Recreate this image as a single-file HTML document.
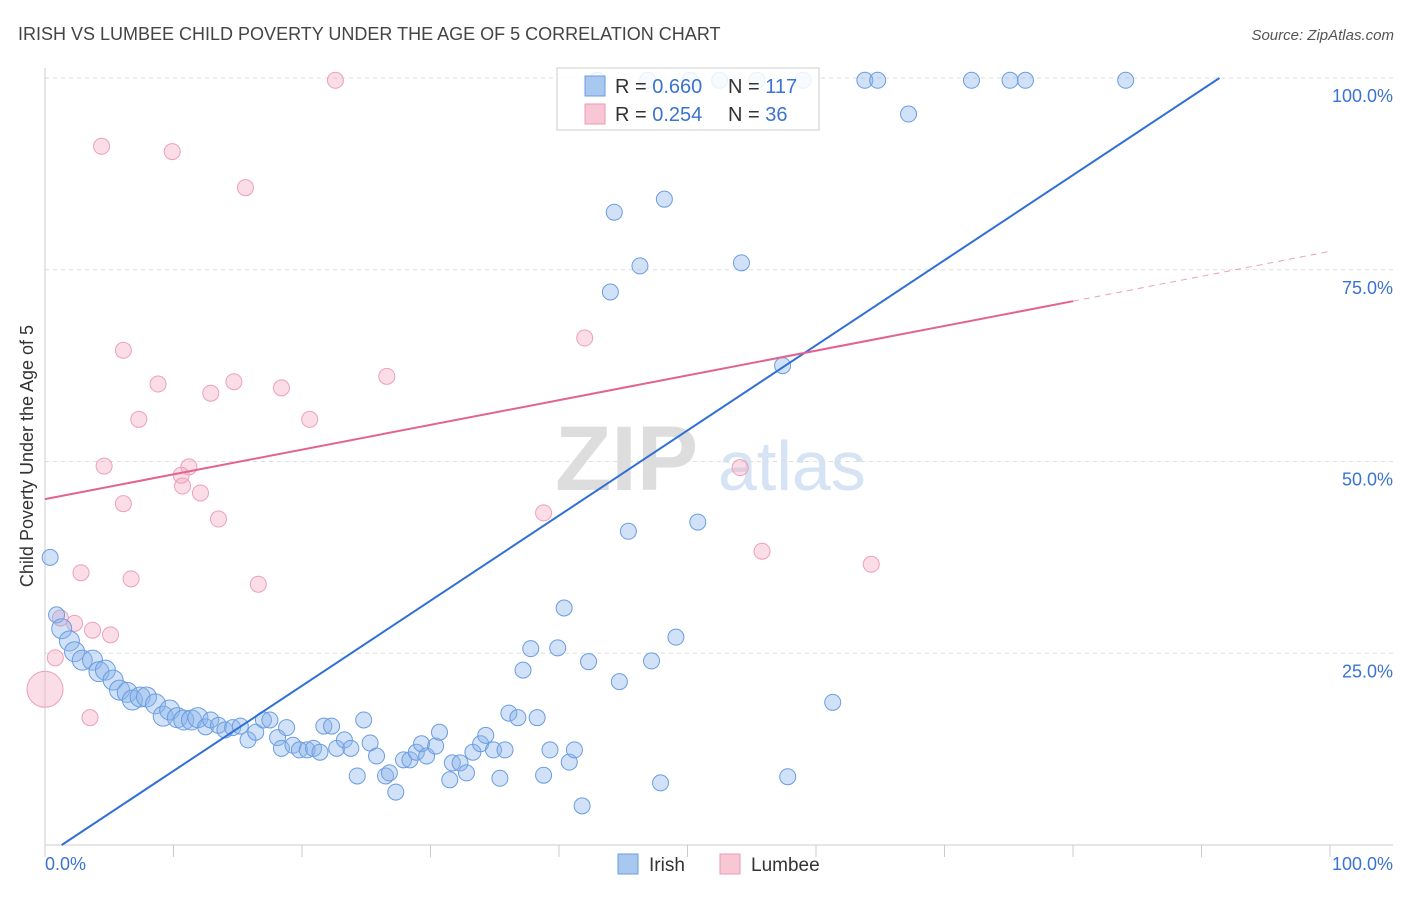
<!DOCTYPE html>
<html><head><meta charset="utf-8"><style>
body{margin:0;background:#fff;font-family:"Liberation Sans",sans-serif}
svg text{font-family:"Liberation Sans",sans-serif}
</style></head><body>
<svg id="chart" width="1406" height="892" viewBox="0 0 1406 892">
<text x="18" y="40" font-size="18" fill="#444">IRISH VS LUMBEE CHILD POVERTY UNDER THE AGE OF 5 CORRELATION CHART</text>
<text x="1394" y="40" font-size="15" fill="#555" text-anchor="end" font-style="italic">Source: ZipAtlas.com</text>
<g>
<text x="555" y="490" font-size="92" fill="#ddd" font-family="Liberation Serif" font-weight="bold">ZIP</text>
<text x="718" y="490" font-size="70" fill="#d5e3f5">atlas</text>
</g>
<g id="grid"></g>
<g id="axes"></g>
<g id="pts"></g>
<g id="lines"></g>
<text transform="translate(33,456) rotate(-90)" font-size="18" fill="#333" text-anchor="middle">Child Poverty Under the Age of 5</text>
<g>
<rect x="557" y="68" width="262" height="62" fill="#fff" fill-opacity="0.85" stroke="#ccc"/>
<rect x="585" y="76" width="20" height="20" fill="#a9c8f0" stroke="#6a9de0"/>
<rect x="585" y="104" width="20" height="20" fill="#f9c6d6" stroke="#eb9ab5"/>
<text x="615" y="93" font-size="20" fill="#333">R = <tspan fill="#3b73d1">0.660</tspan></text>
<text x="728" y="93" font-size="20" fill="#333">N = <tspan fill="#3b73d1">117</tspan></text>
<text x="615" y="121" font-size="20" fill="#333">R = <tspan fill="#3b73d1">0.254</tspan></text>
<text x="728" y="121" font-size="20" fill="#333">N = <tspan fill="#3b73d1"> 36</tspan></text>
</g>
<g>
<rect x="618" y="854" width="20" height="20" fill="#a9c8f0" stroke="#6a9de0"/>
<text x="649" y="871" font-size="19" fill="#333">Irish</text>
<rect x="720" y="854" width="20" height="20" fill="#f9c6d6" stroke="#eb9ab5"/>
<text x="751" y="871" font-size="19" fill="#333">Lumbee</text>
</g>
</svg>
<script>
const yTicks=[25,50,75,100];
const yTickLabels=["25.0%","50.0%","75.0%","100.0%"];
const irishX=[43.0,46.9,50.2,52.5,55.4,59.0,63.8,64.8,72.1,75.1,76.3,84.1,67.2,44.3,48.2,46.3,54.2,44.0,57.4,45.4,50.8,0.4,0.9,1.3,1.9,2.3,2.9,3.7,4.2,4.7,5.3,5.8,6.4,6.8,7.4,7.9,8.6,9.2,9.7,10.3,10.8,11.4,11.9,12.5,12.9,13.5,14.0,14.6,15.2,15.8,16.4,17.0,17.5,18.1,18.4,18.8,19.3,19.8,20.4,20.9,21.4,21.7,22.3,22.7,23.3,23.8,24.3,24.8,25.3,25.8,26.5,26.8,27.3,27.9,28.4,28.9,29.3,29.7,30.4,30.7,31.5,31.7,32.3,32.8,33.3,33.9,34.3,34.9,35.4,35.8,36.1,36.8,37.2,37.8,38.3,38.8,39.3,39.9,40.4,40.8,41.2,41.8,42.3,44.7,47.2,47.9,49.1,57.8,61.3];
const irishY=[99.7,99.7,99.7,99.7,99.7,99.7,99.7,99.7,99.7,99.7,99.7,99.7,95.3,82.5,84.2,75.5,75.9,72.1,62.5,40.9,42.1,37.5,30.0,28.2,26.6,25.2,24.1,24.1,22.6,22.8,21.5,20.2,19.9,18.9,19.3,19.3,18.4,16.8,17.6,16.6,16.3,16.3,16.6,15.4,16.3,15.6,15.0,15.3,15.5,13.7,14.7,16.3,16.3,14.0,12.6,15.3,13.0,12.4,12.4,12.6,12.1,15.5,15.5,12.6,13.7,12.6,9.0,16.3,13.3,11.6,9.0,9.4,6.9,11.1,11.1,12.1,13.2,11.6,12.9,14.7,8.5,10.7,10.7,9.4,12.1,13.2,14.3,12.4,8.7,12.4,17.2,16.6,22.8,25.6,16.6,9.1,12.4,25.7,30.9,10.8,12.4,5.1,23.9,21.3,24.0,8.1,27.1,8.9,18.6];
const lumbeeX=[22.6,4.4,9.9,15.6,6.1,42.0,8.8,12.9,14.7,18.4,26.6,7.3,20.6,4.6,11.2,10.6,10.7,12.1,6.1,13.5,38.8,54.1,2.8,6.7,16.6,55.8,64.3,1.2,2.3,3.7,5.1,0.8,0.0,3.5];
const lumbeeY=[99.7,91.1,90.4,85.7,64.5,66.1,60.1,58.9,60.4,59.6,61.1,55.5,55.5,49.4,49.3,48.2,46.8,45.9,44.5,42.5,43.3,49.2,35.5,34.7,34.0,38.3,36.6,29.6,28.9,28.0,27.4,24.4,20.3,16.6];
const irishFit=[1.3,0,91.4,100];
const lumbeeFit=[45.1,70.9,77.4];
const NS="http://www.w3.org/2000/svg";
const X=v=>45+v*12.85, Y=v=>845-v*7.67;
function mk(t,p,a){const e=document.createElementNS(NS,t);for(const k in a)e.setAttribute(k,a[k]);p.appendChild(e);return e;}
const grid=document.getElementById('grid'),axes=document.getElementById('axes'),pts=document.getElementById('pts'),lines=document.getElementById('lines');
yTicks.forEach((t,i)=>{
 const l=mk('line',grid,{x1:45,x2:1393,y1:Y(t),y2:Y(t),stroke:'#ddd','stroke-dasharray':'4,4'});
 
 
 const tx=mk('text',axes,{x:1393,y:Y(t)+24,'font-size':18,fill:'#3b73d1','text-anchor':'end'});tx.textContent=yTickLabels[i];
 
 
});
mk('line',axes,{x1:45,x2:45,y1:68,y2:845,stroke:'#ccc'});
mk('line',axes,{x1:45,x2:1393,y1:845,y2:845,stroke:'#ccc'});
for(let i=0;i<=10;i++){mk('line',axes,{x1:X(i*10),x2:X(i*10),y1:845,y2:857,stroke:'#ccc'});}
let t0=mk('text',axes,{x:45,y:870,'font-size':18,fill:'#3b73d1'});t0.textContent='0.0%';


let t1=mk('text',axes,{x:1393,y:870,'font-size':18,fill:'#3b73d1','text-anchor':'end'});t1.textContent='100.0%';


lumbeeX.forEach((x,i)=>{
 const c=mk('circle',pts,{cx:X(x),cy:Y(lumbeeY[i]),r:i==32?18:8,fill:'rgba(245,170,195,0.4)',stroke:'#eca0b9','stroke-width':1});
 
 
});
irishX.forEach((x,i)=>{
 const c=mk('circle',pts,{cx:X(x),cy:Y(irishY[i]),r:(x<12&&irishY[i]<30)?10:8,fill:'rgba(140,180,235,0.4)',stroke:'#6a9de0','stroke-width':1});
 
 
});
const bl=mk('line',lines,{x1:X(irishFit[0]),y1:Y(irishFit[1]),x2:X(irishFit[2]),y2:Y(irishFit[3]),stroke:'#2f6fd6','stroke-width':2});


const pl=mk('line',lines,{x1:X(0),y1:Y(lumbeeFit[0]),x2:X(80),y2:Y(lumbeeFit[1]),stroke:'#e2638f','stroke-width':2});


const pd=mk('line',lines,{x1:X(80),y1:Y(lumbeeFit[1]),x2:X(100),y2:Y(lumbeeFit[2]),stroke:'#eca0b9','stroke-width':1,'stroke-dasharray':'6,5'});


</script>
</body></html>
